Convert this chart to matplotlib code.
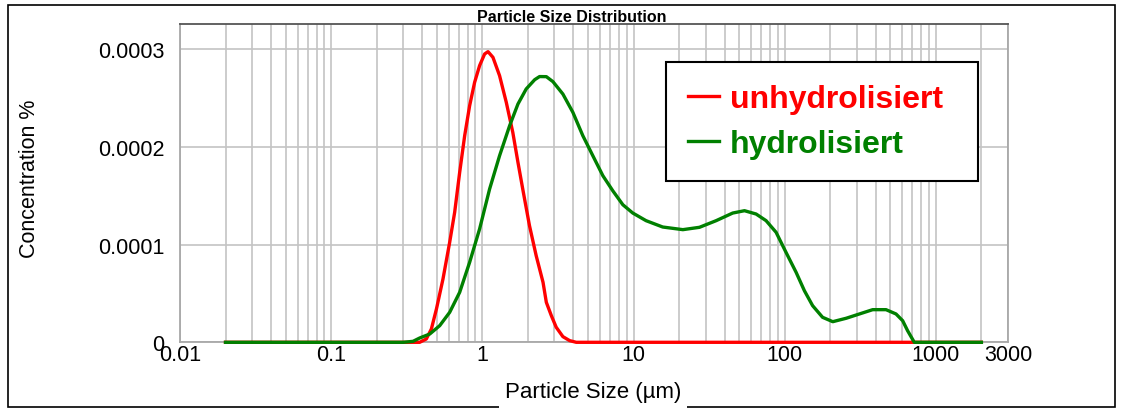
import numpy as np
import matplotlib
matplotlib.use("Agg")
import matplotlib.pyplot as plt
import matplotlib.patches as patches
from matplotlib.ticker import LogLocator, FixedLocator, NullFormatter

plt.rcParams["font.family"] = ["Liberation Sans", "DejaVu Sans"]

# particle size (um) / concentration (%)
SIZE_UNHYD = [0.02, 0.1, 0.3, 0.385, 0.426, 0.46, 0.497, 0.549, 0.608, 0.656,
              0.708, 0.764, 0.824, 0.889, 0.959, 1.035, 1.09, 1.175, 1.30,
              1.44, 1.59, 1.72, 1.85, 2.05, 2.27, 2.52, 2.65, 2.86, 3.08,
              3.41, 3.78, 4.18, 10, 100, 1000, 2000]
CONC_UNHYD = [0, 0, 0, 0, 0.034e-4, 0.136e-4, 0.341e-4, 0.648e-4, 1.024e-4,
              1.331e-4, 1.740e-4, 2.115e-4, 2.422e-4, 2.661e-4, 2.832e-4,
              2.951e-4, 2.975e-4, 2.917e-4, 2.729e-4, 2.456e-4, 2.149e-4,
              1.842e-4, 1.569e-4, 1.194e-4, 0.887e-4, 0.614e-4, 0.409e-4,
              0.273e-4, 0.154e-4, 0.058e-4, 0.017e-4, 0, 0, 0, 0, 0]

SIZE_HYD = [0.02, 0.1, 0.3, 0.348, 0.385, 0.449, 0.522, 0.608, 0.708, 0.824,
            0.959, 1.117, 1.30, 1.515, 1.72, 1.95, 2.22, 2.39, 2.65, 2.93,
            3.41, 3.97, 4.62, 5.38, 6.27, 7.30, 8.50, 9.89, 12.1, 15.6,
            21.2, 27.3, 35.2, 45.3, 54.2, 64.7, 75.3, 87.7, 102, 119, 135,
            153, 178, 208, 255, 312, 382, 468, 545, 603, 650, 720, 1000, 2000]
CONC_HYD = [0, 0, 0, 0.01e-4, 0.044e-4, 0.085e-4, 0.17e-4, 0.307e-4,
            0.512e-4, 0.819e-4, 1.160e-4, 1.569e-4, 1.910e-4, 2.217e-4,
            2.439e-4, 2.593e-4, 2.688e-4, 2.72e-4, 2.719e-4, 2.668e-4,
            2.541e-4, 2.354e-4, 2.115e-4, 1.910e-4, 1.705e-4, 1.55e-4,
            1.408e-4, 1.323e-4, 1.245e-4, 1.18e-4, 1.153e-4, 1.177e-4,
            1.245e-4, 1.323e-4, 1.347e-4, 1.313e-4, 1.245e-4, 1.126e-4,
            0.921e-4, 0.716e-4, 0.528e-4, 0.375e-4, 0.256e-4, 0.211e-4,
            0.246e-4, 0.290e-4, 0.334e-4, 0.334e-4, 0.290e-4, 0.221e-4,
            0.119e-4, 0, 0, 0]

X_TICKS = [0.01, 0.1, 1, 10, 100, 1000, 3000]
X_LABELS = ["0.01", "0.1", "1", "10", "100", "1000", "3000"]
Y_TICKS = [0, 0.0001, 0.0002, 0.0003]
Y_LABELS = ["0", "0.0001", "0.0002", "0.0003"]

W, H = 1123, 410
fig = plt.figure(figsize=(W / 100, H / 100), dpi=100)

# outer frame around the whole chart
frame = patches.Rectangle((8 / W, 1 - 408 / H), 1107 / W, 402 / H,
                          transform=fig.transFigure, fill=False,
                          edgecolor="black", linewidth=1.2, zorder=0)
fig.patches.append(frame)

ax = fig.add_axes([180 / W, 1 - 343.3 / H, 828 / W, 318.3 / H])
ax.set_xscale("log")
ax.set_xlim(0.01, 3000)
ax.set_ylim(0, 3.258e-4)

ax.xaxis.set_major_locator(FixedLocator(X_TICKS))
ax.set_xticklabels(X_LABELS)
ax.xaxis.set_minor_locator(LogLocator(base=10, subs=np.arange(2, 10), numticks=20))
ax.xaxis.set_minor_formatter(NullFormatter())
ax.set_yticks(Y_TICKS)
ax.set_yticklabels(Y_LABELS)

ax.grid(True, which="both", axis="x", color="#c4c4c4", linewidth=1.2)
ax.grid(True, which="major", axis="y", color="#c4c4c4", linewidth=1.2)
ax.set_axisbelow(True)
ax.tick_params(which="both", length=0)
ax.tick_params(axis="x", labelsize=15.5, pad=1.5)
ax.tick_params(axis="y", labelsize=15.5, pad=11)

for s in ("left", "right", "bottom"):
    ax.spines[s].set_color("#a8a8a8")
    ax.spines[s].set_linewidth(1.3)
ax.spines["top"].set_color("#555555")
ax.spines["top"].set_linewidth(1.3)

ax.plot(SIZE_UNHYD, CONC_UNHYD, color="#ff0000", linewidth=2.4,
        label="unhydrolisiert", clip_on=False, zorder=3)
ax.plot(SIZE_HYD, CONC_HYD, color="#008000", linewidth=2.4,
        label="hydrolisiert", clip_on=False, zorder=3)

leg = ax.legend(loc="upper left", bbox_to_anchor=(0.587, 0.5, 0.3768, 0.3806),
                mode="expand", borderaxespad=0, fancybox=False,
                framealpha=1, edgecolor="black", labelcolor="linecolor",
                prop={"weight": "bold", "size": 23}, handlelength=0.95,
                handletextpad=0.35, borderpad=0.7, labelspacing=0.45)
leg.get_frame().set_linewidth(1.5)
leg.set_zorder(5)

fig.text(571.5 / W, 1 - 21.7 / H, "Particle Size Distribution",
         ha="center", va="baseline", fontsize=11.5, fontweight="bold")
fig.text(593 / W, 1 - 398.3 / H, "Particle Size (µm)", ha="center",
         va="baseline", fontsize=16, zorder=5,
         bbox=dict(facecolor="white", edgecolor="none", pad=4))
fig.text(30 / W, 1 - 179 / H, "Concentration %", ha="center", va="center",
         rotation=90, fontsize=15.5)

fig.savefig("out.png", dpi=100)
